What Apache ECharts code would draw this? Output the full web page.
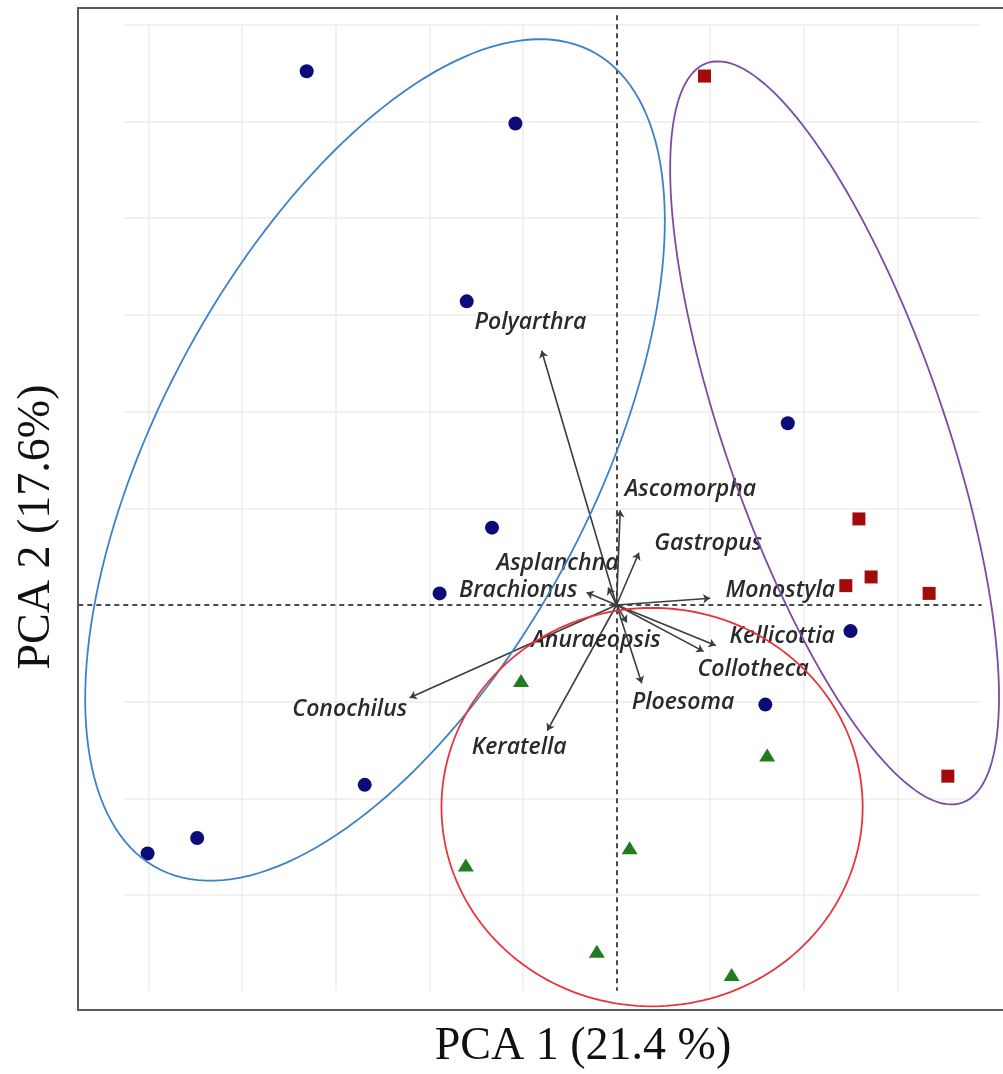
<!DOCTYPE html>
<html>
<head>
<meta charset="utf-8">
<script src="https://cdn.jsdelivr.net/npm/echarts@6/dist/echarts.min.js"></script>
<style>
  html, body { margin: 0; padding: 0; background: #fff; }
  #chart { width: 1003px; height: 1074px; }
</style>
</head>
<body>
<div id="chart"></div>
<script>
// sample scores (PCA 1, PCA 2)
const circleSites = [
  [-3.31, 5.52], [-1.08, 4.98], [-1.60, 3.14], [1.83, 1.88], [-1.33, 0.80],
  [-1.89, 0.12], [2.50, -0.27], [1.59, -1.03], [-2.69, -1.86], [-4.48, -2.41], [-5.01, -2.57]
];
const squareSites = [
  [0.94, 5.47], [2.59, 0.89], [2.72, 0.29], [2.45, 0.20], [3.34, 0.12], [3.54, -1.77]
];
const triangleSites = [
  [-1.02, -0.78], [1.61, -1.55], [-1.61, -2.69], [0.14, -2.51], [-0.21, -3.58], [1.23, -3.82]
];

// species loadings (arrow tips) and where their names sit
const species = ['Polyarthra', 'Ascomorpha', 'Gastropus', 'Asplanchna', 'Brachionus', 'Monostyla',
  'Anuraeopsis', 'Kellicottia', 'Collotheca', 'Ploesoma', 'Conochilus', 'Keratella'];
const loadings = [
  [-0.80, 2.63], [0.04, 0.98], [0.24, 0.54], [-0.09, 0.18], [-0.32, 0.13], [1.00, 0.07],
  [0.11, -0.18], [1.06, -0.42], [0.93, -0.48], [0.27, -0.81], [-2.21, -0.96], [-0.74, -1.30]
];
const labelAt = [
  [-0.92, 2.92], [0.79, 1.19], [0.98, 0.64], [-0.63, 0.43], [-1.05, 0.15], [1.75, 0.15],
  [-0.22, -0.37], [1.77, -0.33], [1.46, -0.67], [0.71, -1.01], [-2.85, -1.08], [-1.04, -1.47]
];

// group ellipses: centre x, centre y, semi-major, semi-minor, angle (deg)
const ellipseBlue = [-2.58, 1.50, 4.82, 2.30, 60.7];
const ellipsePurple = [2.33, 1.78, 4.06, 1.17, -70.3];
const ellipseRed = [0.38, -2.09, 2.25, 2.06, 0];

// background grid
const xTicks = [-5, -4, -3, -2, -1, 1, 2, 3];
const yTicks = [6, 5, 4, 3, 2, 1, -1, -2, -3];
const panelX = [-5.26, 3.88];
const panelY = [-3.99, 6.0];

const chart = echarts.init(document.getElementById('chart'), null, { renderer: 'canvas' });

const ellipseSeries = (params, color) => ({
  type: 'custom',
  coordinateSystem: 'cartesian2d',
  silent: true,
  clip: false,
  z: 10,
  data: [params],
  renderItem: (p, api) => {
    const cx = api.value(0), cy = api.value(1), a = api.value(2), b = api.value(3);
    const phi = api.value(4) * Math.PI / 180;
    const pts = [];
    for (let i = 0; i < 180; i++) {
      const t = i / 180 * Math.PI * 2;
      pts.push(api.coord([
        cx + a * Math.cos(t) * Math.cos(phi) - b * Math.sin(t) * Math.sin(phi),
        cy + a * Math.cos(t) * Math.sin(phi) + b * Math.sin(t) * Math.cos(phi)
      ]));
    }
    return {
      type: 'polygon',
      shape: { points: pts, smooth: 0 },
      style: { fill: 'none', stroke: color, lineWidth: 1.8 }
    };
  }
});

const gridLines = [
  ...xTicks.map(x => ({ coords: [[x, panelY[0]], [x, panelY[1]]] })),
  ...yTicks.map(y => ({ coords: [[panelX[0], y], [panelX[1], y]] }))
];

chart.setOption({
  animation: false,
  grid: {
    left: 616.5 - 93.6 * 6,
    width: 93.6 * 10,
    top: 605 - 96.7 * 6.2,
    height: 96.7 * 10.7,
    show: false
  },
  xAxis: { type: 'value', min: -6, max: 4, show: false },
  yAxis: { type: 'value', min: -4.5, max: 6.2, show: false },
  graphic: [
    {
      type: 'rect',
      z: 100,
      silent: true,
      shape: { x: 78, y: 8, width: 940, height: 1002 },
      style: { fill: 'none', stroke: '#5a5a5a', lineWidth: 2 }
    },
    {
      type: 'text',
      x: 583,
      y: 1047,
      style: {
        text: 'PCA 1 (21.4 %)',
        font: '46px "Liberation Serif", "Times New Roman", serif',
        fill: '#111',
        align: 'center',
        verticalAlign: 'middle'
      }
    },
    {
      type: 'text',
      x: 37,
      y: 527,
      rotation: Math.PI / 2,
      style: {
        text: 'PCA 2 (17.6%)',
        font: '46px "Liberation Serif", "Times New Roman", serif',
        fill: '#111',
        align: 'center',
        verticalAlign: 'middle'
      }
    }
  ],
  series: [
    {
      type: 'lines',
      coordinateSystem: 'cartesian2d',
      silent: true,
      z: 1,
      lineStyle: { color: '#ececec', width: 1.5, opacity: 1 },
      data: gridLines
    },
    {
      type: 'lines',
      coordinateSystem: 'cartesian2d',
      silent: true,
      z: 2,
      lineStyle: { color: '#4a4a4a', width: 2, type: [5, 4], opacity: 1 },
      data: [
        { coords: [[0, 6.1], [0, -3.99]] },
        { coords: [[-5.75, 0], [3.9, 0]] }
      ]
    },
    {
      type: 'lines',
      coordinateSystem: 'cartesian2d',
      silent: true,
      z: 3,
      symbol: ['none', 'arrow'],
      symbolSize: 7,
      lineStyle: { color: '#3c3c3c', width: 1.6, opacity: 1 },
      data: loadings.map(p => ({ coords: [[0, 0], p] }))
    },
    {
      type: 'scatter',
      silent: true,
      z: 4,
      symbolSize: 0,
      itemStyle: { opacity: 1 },
      label: {
        show: true,
        position: 'inside',
        formatter: '{b}',
        color: '#2a2a2a',
        opacity: 1,
        fontStyle: 'italic',
        fontWeight: 600,
        fontFamily: '"Open Sans", "DejaVu Sans", sans-serif',
        fontSize: 23
      },
      data: species.map((s, i) => ({ name: s, value: labelAt[i] }))
    },
    {
      type: 'scatter',
      z: 5,
      symbol: 'circle',
      symbolSize: 14,
      itemStyle: { color: '#0c0c78', opacity: 1 },
      data: circleSites
    },
    {
      type: 'scatter',
      z: 5,
      symbol: 'rect',
      symbolSize: 13,
      itemStyle: { color: '#a30a0a', opacity: 1 },
      data: squareSites
    },
    {
      type: 'scatter',
      z: 5,
      symbol: 'triangle',
      symbolSize: [16, 13],
      itemStyle: { color: '#1f7d1f', opacity: 1 },
      data: triangleSites
    },
    ellipseSeries(ellipseBlue, '#3d82c8'),
    ellipseSeries(ellipsePurple, '#7d4aa6'),
    ellipseSeries(ellipseRed, '#e8343c')
  ]
});
</script>
</body>
</html>
